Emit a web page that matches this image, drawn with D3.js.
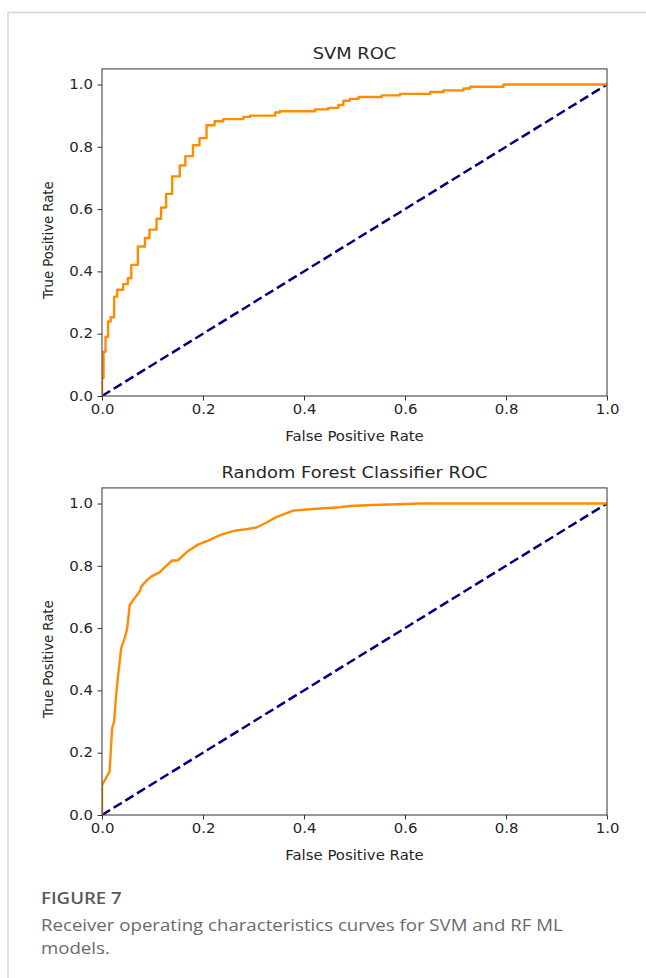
<!DOCTYPE html>
<html>
<head>
<meta charset="utf-8">
<script src="https://cdn.jsdelivr.net/npm/d3@7/dist/d3.min.js"></script>
<style>
  html, body { margin: 0; padding: 0; background: #fff; }
  svg { display: block; }
</style>
</head>
<body>
<svg id="fig" width="646" height="978"></svg>
<script>
// ROC curve for the SVM model (staircase points: fpr, tpr)
const svmFpr = [0, 0, 0.003, 0.007, 0.012, 0.017, 0.024, 0.030, 0.042, 0.051, 0.058, 0.071, 0.085, 0.094, 0.108, 0.117, 0.127, 0.139, 0.154, 0.165, 0.180, 0.193, 0.207, 0.223, 0.240, 0.280, 0.293, 0.343, 0.352, 0.422, 0.448, 0.468, 0.478, 0.491, 0.508, 0.554, 0.590, 0.650, 0.676, 0.716, 0.729, 0.795, 1.0];
const svmTpr = [0, 0.058, 0.142, 0.190, 0.239, 0.253, 0.319, 0.341, 0.359, 0.378, 0.421, 0.480, 0.507, 0.534, 0.569, 0.605, 0.649, 0.705, 0.740, 0.770, 0.805, 0.828, 0.869, 0.882, 0.889, 0.896, 0.900, 0.910, 0.914, 0.920, 0.925, 0.934, 0.948, 0.954, 0.960, 0.965, 0.970, 0.976, 0.981, 0.987, 0.993, 1.0, 1.0];

// ROC curve for the Random Forest classifier
const rfFpr = [0, 0, 0.015, 0.020, 0.024, 0.028, 0.032, 0.038, 0.045, 0.050, 0.055, 0.065, 0.075, 0.078, 0.088, 0.098, 0.114, 0.124, 0.139, 0.150, 0.170, 0.190, 0.210, 0.236, 0.263, 0.289, 0.306, 0.326, 0.346, 0.379, 0.425, 0.471, 0.491, 0.537, 0.570, 0.630, 1.0];
const rfTpr = [0, 0.096, 0.139, 0.278, 0.300, 0.386, 0.450, 0.536, 0.568, 0.600, 0.675, 0.697, 0.718, 0.734, 0.752, 0.766, 0.779, 0.795, 0.817, 0.817, 0.847, 0.868, 0.881, 0.900, 0.913, 0.918, 0.923, 0.939, 0.957, 0.977, 0.983, 0.988, 0.992, 0.995, 0.997, 1.0, 1.0];

// Chance diagonal
const chanceX = [0, 1];
const chanceY = [0, 1];

const axisTicks = [0, 0.2, 0.4, 0.6, 0.8, 1.0];

const panels = [
  { title: "SVM ROC", fpr: svmFpr, tpr: svmTpr, curve: d3.curveStepAfter, top: 396 },
  { title: "Random Forest Classifier ROC", fpr: rfFpr, tpr: rfTpr, curve: d3.curveLinear, top: 815 }
];

const svg = d3.select("#fig");
const SX = 1.13;          // horizontal stretch of the figure's lettering
const left = 102, right = 607, unit = 311.5;
const textColor = "#262626";
const font = "'DejaVu Sans', sans-serif";

// page frame
svg.append("line").attr("x1", 8).attr("x2", 646).attr("y1", 12.5).attr("y2", 12.5)
  .attr("stroke", "#d4d4d4").attr("stroke-width", 1.5);
svg.append("line").attr("x1", 8).attr("x2", 8).attr("y1", 12.5).attr("y2", 978)
  .attr("stroke", "#d4d4d4").attr("stroke-width", 1.5);

panels.forEach(p => {
  const y0 = p.top;
  const x = d3.scaleLinear().domain([0, 1]).range([left, right]);
  const y = d3.scaleLinear().domain([0, 1.05]).range([y0, y0 - 1.05 * unit]);
  const g = svg.append("g");

  const fmt = d3.format(".1f");

  // x axis
  const xa = g.append("g").attr("transform", `translate(0,${y0})`)
    .call(d3.axisBottom(x).tickValues(axisTicks).tickFormat(fmt).tickSize(4.5).tickPadding(4.5));
  // y axis
  const ya = g.append("g").attr("transform", `translate(${left},0)`)
    .call(d3.axisLeft(y).tickValues(axisTicks).tickFormat(fmt).tickSize(4.5).tickPadding(4.5));

  [xa, ya].forEach(a => {
    a.select(".domain").remove();
    a.selectAll("line").attr("stroke", "#333").attr("stroke-width", 1);
    a.selectAll("text").attr("fill", textColor).attr("font-family", font)
      .attr("font-size", 13.2);
  });
  xa.selectAll("text").attr("transform", `scale(${SX},1)`);
  ya.selectAll("text").attr("transform", `scale(${SX},1)`).attr("x", -9 / SX);

  // clip to the axes area
  const cid = "clip" + y0;
  svg.append("clipPath").attr("id", cid).append("rect")
    .attr("x", left).attr("y", y(1.05)).attr("width", right - left).attr("height", y0 - y(1.05));

  const plot = g.append("g").attr("clip-path", `url(#${cid})`);

  // chance line
  plot.append("path")
    .datum(chanceX.map((v, i) => [v, chanceY[i]]))
    .attr("d", d3.line().x(d => x(d[0])).y(d => y(d[1])))
    .attr("fill", "none").attr("stroke", "#000080").attr("stroke-width", 2.5)
    .attr("stroke-dasharray", "9.5,4.2");

  // ROC curve
  plot.append("path")
    .datum(p.fpr.map((v, i) => [v, p.tpr[i]]))
    .attr("d", d3.line().curve(p.curve).x(d => x(d[0])).y(d => y(d[1])))
    .attr("fill", "none").attr("stroke", "#ff8c00").attr("stroke-width", 2.4)
    .attr("stroke-linejoin", "round");

  // axes frame
  g.append("rect").attr("x", left).attr("y", y(1.05))
    .attr("width", right - left).attr("height", y0 - y(1.05))
    .attr("fill", "none").attr("stroke", "#333").attr("stroke-width", 1);

  const cx = (left + right) / 2;
  // title
  g.append("text").attr("transform", `translate(${cx},${y(1.05) - 10}) scale(${SX},1)`)
    .attr("text-anchor", "middle").attr("font-family", font).attr("font-size", 15.8)
    .attr("fill", textColor).text(p.title);
  // x label
  g.append("text").attr("transform", `translate(${cx},${y0 + 45}) scale(${SX},1)`)
    .attr("text-anchor", "middle").attr("font-family", font).attr("font-size", 13.2)
    .attr("fill", textColor).text("False Positive Rate");
  // y label
  g.append("text").attr("transform", `translate(53,${y(0.5)}) rotate(-90) scale(1,${SX})`)
    .attr("text-anchor", "middle").attr("font-family", font).attr("font-size", 13.2)
    .attr("fill", textColor).text("True Positive Rate");
});

// caption
svg.append("text").attr("transform", `translate(41,904) scale(${SX},1)`)
  .attr("font-family", "'Open Sans', sans-serif").attr("font-size", 16.5).attr("font-weight", 600)
  .attr("fill", "#5a5a5a").text("FIGURE 7");
const cap = svg.append("text").attr("transform", `translate(41,0) scale(${SX},1)`)
  .attr("font-family", "'Open Sans', sans-serif")
  .attr("font-size", 16.5).attr("fill", "#6a6a6a");
cap.append("tspan").attr("x", 0).attr("y", 931)
  .text("Receiver operating characteristics curves for SVM and RF ML");
cap.append("tspan").attr("x", 0).attr("y", 954).text("models.");
</script>
</body>
</html>
